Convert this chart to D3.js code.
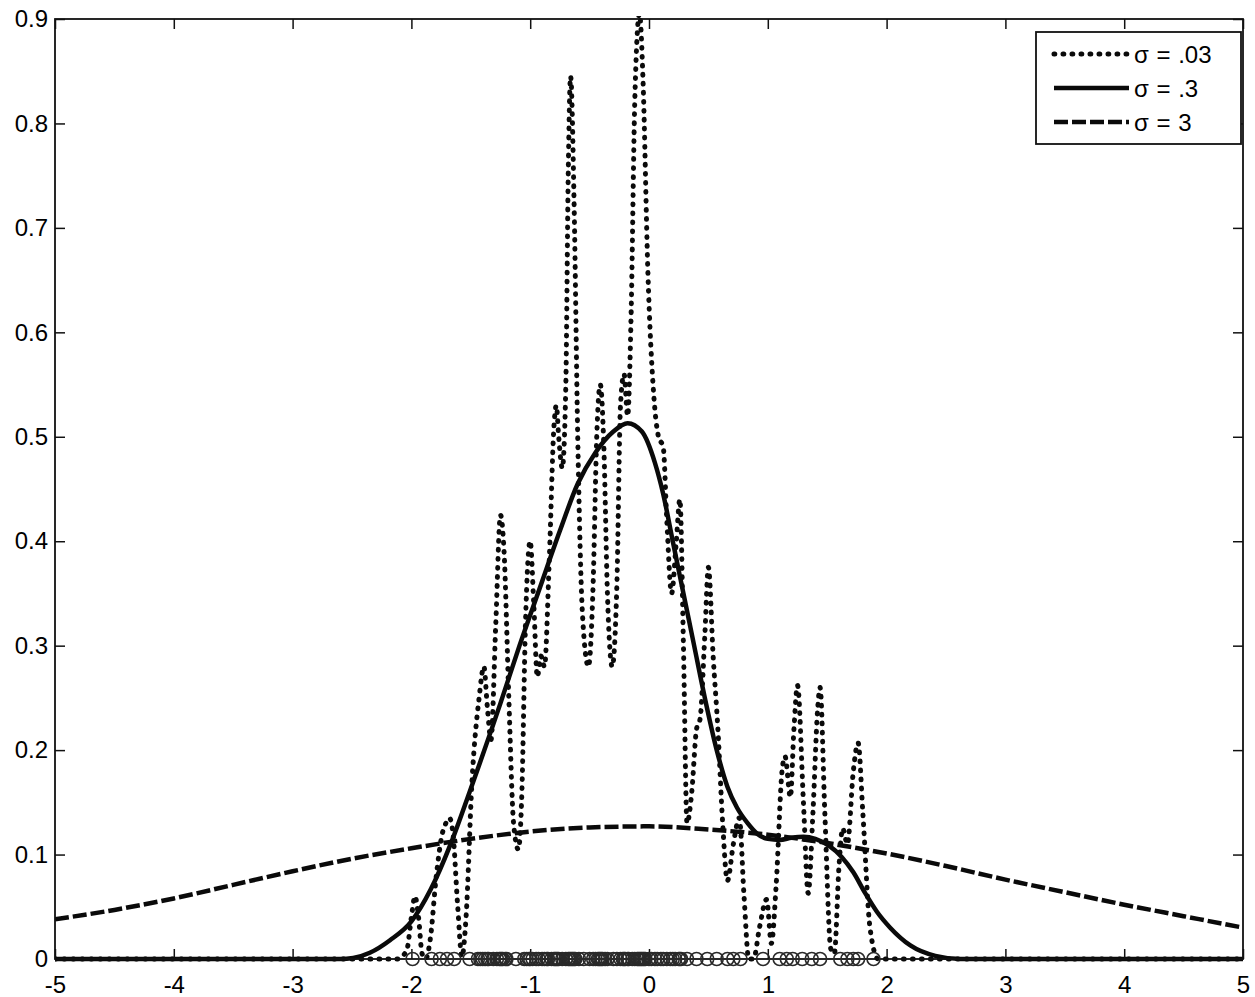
<!DOCTYPE html>
<html>
<head>
<meta charset="utf-8">
<script src="https://cdn.jsdelivr.net/npm/d3@7"></script>
<style>
  body { margin: 0; background: #fff; }
  text { font-family: "Liberation Sans", Arial, Helvetica, sans-serif; }
</style>
</head>
<body>
<script>

var width = 1255, height = 997;
var margin = {left: 55, right: 12, top: 19, bottom: 38};

var xTicks = [-5,-4,-3,-2,-1,0,1,2,3,4,5];
var yTicks = [0,0.1,0.2,0.3,0.4,0.5,0.6,0.7,0.8,0.9];
var legendLabels = ["\u03c3 = .03", "\u03c3 = .3", "\u03c3 = 3"];

// observed samples (circles on the x axis)
var samples = [-1.99,-1.83,-1.76,-1.70,-1.64,-1.51,
  -1.44,-1.42,-1.40,-1.38,-1.36,-1.35,-1.31,-1.28,-1.26,-1.25,-1.24,-1.23,-1.21,-1.20,-1.12,
  -1.05,-1.03,-1.01,-1.00,-0.98,-0.95,-0.93,-0.90,-0.88,-0.86,-0.85,-0.82,-0.80,-0.79,-0.78,
  -0.77,-0.76,-0.73,-0.70,-0.68,-0.67,-0.66,-0.65,-0.64,-0.63,-0.62,-0.59,-0.55,-0.50,-0.47,
  -0.45,-0.43,-0.42,-0.41,-0.40,-0.39,-0.37,-0.35,-0.30,-0.27,-0.24,-0.22,-0.21,-0.20,-0.18,
  -0.17,-0.14,-0.12,-0.10,-0.09,-0.08,-0.07,-0.06,-0.05,-0.04,-0.03,0.00,0.02,0.05,0.07,0.10,
  0.12,0.15,0.18,0.20,0.22,0.25,0.26,0.27,0.32,0.40,0.49,0.57,0.66,0.71,0.77,
  0.96,1.10,1.16,1.21,1.29,1.37,1.44,1.61,1.67,1.72,1.76,1.89];

// sigma = .03 curve
var fineX = [-5,-2.12,-2.04,-2.0,-1.97,-1.94,-1.91,-1.88,-1.84,-1.79,-1.74,-1.71,-1.68,-1.65,-1.61,-1.575,
  -1.54,-1.49,-1.43,-1.39,-1.36,-1.33,-1.29,-1.25,-1.22,-1.18,-1.14,-1.10,-1.07,-1.04,-1.0,-0.97,
  -0.94,-0.91,-0.88,-0.84,-0.80,-0.78,-0.76,-0.73,-0.70,-0.68,-0.66,-0.63,-0.60,-0.56,-0.51,-0.47,
  -0.44,-0.41,-0.38,-0.35,-0.31,-0.27,-0.24,-0.21,-0.18,-0.15,-0.12,-0.08,-0.05,-0.01,0.04,0.08,
  0.12,0.15,0.19,0.23,0.26,0.29,0.32,0.36,0.40,0.43,0.47,0.50,0.54,0.58,0.62,0.66,0.71,0.76,
  0.80,0.84,0.88,0.93,0.99,1.03,1.07,1.12,1.145,1.19,1.22,1.25,1.30,1.34,1.38,1.42,1.44,1.48,
  1.53,1.56,1.60,1.63,1.67,1.72,1.76,1.80,1.86,1.93,5];
var fineY = [0,0,0.008,0.04,0.06,0.04,0.005,0,0.02,0.08,0.12,0.13,0.135,0.12,0.05,0.002,
  0.04,0.17,0.25,0.28,0.24,0.21,0.32,0.425,0.39,0.25,0.13,0.105,0.16,0.32,0.40,0.34,
  0.27,0.29,0.28,0.38,0.51,0.53,0.50,0.47,0.55,0.75,0.845,0.72,0.50,0.33,0.28,0.36,
  0.50,0.55,0.49,0.35,0.28,0.36,0.53,0.56,0.52,0.62,0.82,0.905,0.84,0.66,0.54,0.50,
  0.49,0.42,0.35,0.40,0.44,0.30,0.13,0.16,0.22,0.23,0.31,0.375,0.29,0.22,0.13,0.075,0.11,0.135,
  0.06,0.0,0.0,0.03,0.057,0.015,0.07,0.18,0.194,0.155,0.22,0.262,0.15,0.063,0.14,0.24,0.26,0.14,
  0.01,0.005,0.09,0.125,0.11,0.18,0.207,0.14,0.03,0,0];

// sigma = .3 curve
var midX = [-5,-2.6,-2.49,-2.35,-2.18,-2.0,-1.84,-1.67,-1.51,-1.25,-1.09,-0.92,-0.75,-0.60,-0.45,-0.30,
  -0.18,-0.06,0.05,0.12,0.20,0.29,0.38,0.47,0.57,0.66,0.74,0.83,0.91,1.0,1.1,1.2,1.3,1.4,1.52,1.62,1.72,
  1.82,1.92,2.03,2.20,2.41,2.62,5];
var midY = [0,0,0.001,0.006,0.018,0.036,0.066,0.11,0.16,0.245,0.30,0.355,0.41,0.455,0.485,0.505,
  0.513,0.505,0.475,0.445,0.40,0.35,0.30,0.25,0.20,0.165,0.145,0.13,0.12,0.115,0.114,0.116,0.117,0.115,0.108,0.098,0.083,
  0.063,0.045,0.03,0.013,0.003,0,0];

// sigma = 3 curve
var wideX = [-5,-4.5,-4,-3.5,-3,-2.5,-2,-1.5,-1,-0.5,0,0.5,1,1.5,2,2.5,3,3.5,4,4.5,5];
var wideY = [0.038,0.047,0.058,0.071,0.084,0.096,0.106,0.115,0.122,0.126,0.127,0.124,0.119,0.111,0.101,0.089,0.076,0.064,0.052,0.041,0.030];

var svg = d3.select("body").append("svg")
    .attr("width", width)
    .attr("height", height);

var x = d3.scaleLinear().domain([-5, 5]).range([margin.left, width - margin.right]);
var y = d3.scaleLinear().domain([0, 0.9]).range([height - margin.bottom, margin.top]);

svg.append("defs").append("clipPath").attr("id", "plotclip")
  .append("rect")
    .attr("x", x(-5)).attr("y", y(0.9) - 3)
    .attr("width", x(5) - x(-5)).attr("height", y(0) - y(0.9) + 6);

var line = d3.line()
    .x(function (d) { return x(d[0]); })
    .y(function (d) { return y(d[1]); })
    .curve(d3.curveMonotoneX);

var plot = svg.append("g").attr("clip-path", "url(#plotclip)");

plot.append("path")
    .datum(d3.zip(fineX, fineY))
    .attr("d", line)
    .attr("fill", "none")
    .attr("stroke", "#0a0a0a")
    .attr("stroke-width", 5)
    .attr("stroke-linecap", "round")
    .attr("stroke-dasharray", "0.8,8.2");

plot.append("path")
    .datum(d3.zip(midX, midY))
    .attr("d", line)
    .attr("fill", "none")
    .attr("stroke", "#0a0a0a")
    .attr("stroke-width", 4.5);

plot.append("path")
    .datum(d3.zip(wideX, wideY))
    .attr("d", line)
    .attr("fill", "none")
    .attr("stroke", "#0a0a0a")
    .attr("stroke-width", 4.5)
    .attr("stroke-dasharray", "14,4");

// axes, MATLAB style: ticks pointing inward on all four sides
var fmtX = function (d) { return String(d); };
var fmtY = function (d) { return d === 0 ? "0" : d.toFixed(1); };

var axisStyle = function (g) {
  g.select(".domain").remove();
  g.selectAll(".tick line").attr("stroke", "#111").attr("stroke-width", 1.5);
  g.selectAll(".tick text").attr("fill", "#000").style("font-size", "24px")
    .style("font-family", "'Liberation Sans', Arial, Helvetica, sans-serif");
};

svg.append("g")
    .attr("transform", "translate(0," + y(0) + ")")
    .call(d3.axisBottom(x).tickValues(xTicks).tickSizeInner(-10).tickSizeOuter(0).tickPadding(17)
      .tickFormat(fmtX))
    .call(axisStyle);

svg.append("g")
    .attr("transform", "translate(0," + y(0.9) + ")")
    .call(d3.axisTop(x).tickValues(xTicks).tickSizeInner(-10).tickSizeOuter(0).tickFormat(""))
    .call(axisStyle);

svg.append("g")
    .attr("transform", "translate(" + x(-5) + ",0)")
    .call(d3.axisLeft(y).tickValues(yTicks).tickSizeInner(-10).tickSizeOuter(0).tickPadding(7)
      .tickFormat(fmtY))
    .call(axisStyle);

svg.append("g")
    .attr("transform", "translate(" + x(5) + ",0)")
    .call(d3.axisRight(y).tickValues(yTicks).tickSizeInner(-10).tickSizeOuter(0).tickFormat(""))
    .call(axisStyle);

svg.append("rect")
    .attr("x", x(-5)).attr("y", y(0.9))
    .attr("width", x(5) - x(-5)).attr("height", y(0) - y(0.9))
    .attr("fill", "none")
    .attr("stroke", "#111")
    .attr("stroke-width", 1.8);

// sample markers sit on the axis line and are not clipped
svg.append("g").selectAll("circle.sample")
    .data(samples)
    .enter()
    .append("circle")
    .attr("class", "sample")
    .attr("cx", function (d) { return x(d); })
    .attr("cy", y(0))
    .attr("r", 6.5)
    .attr("fill", "none")
    .attr("stroke", "#2a2a2a")
    .attr("stroke-width", 1.6);

// legend
var legend = svg.append("g").attr("transform", "translate(1036,32)");

legend.append("rect")
    .attr("width", 205).attr("height", 112)
    .attr("fill", "#fff")
    .attr("stroke", "#111")
    .attr("stroke-width", 1.8);

var dashes = ["0.8,8.2", null, "14,4"];
var widths = [5, 4.5, 4.5];

legendLabels.forEach(function (label, i) {
  var cy = 22 + i * 34;
  legend.append("line")
      .attr("x1", 18).attr("x2", 93)
      .attr("y1", cy).attr("y2", cy)
      .attr("stroke", "#0a0a0a")
      .attr("stroke-width", widths[i])
      .attr("stroke-linecap", i === 0 ? "round" : "butt")
      .attr("stroke-dasharray", dashes[i]);
  legend.append("text")
      .attr("x", 98).attr("y", cy + 9)
      .style("font-size", "24px")
      .style("word-spacing", "1px")
      .attr("fill", "#000")
      .text(label);
});

</script>
</body>
</html>
